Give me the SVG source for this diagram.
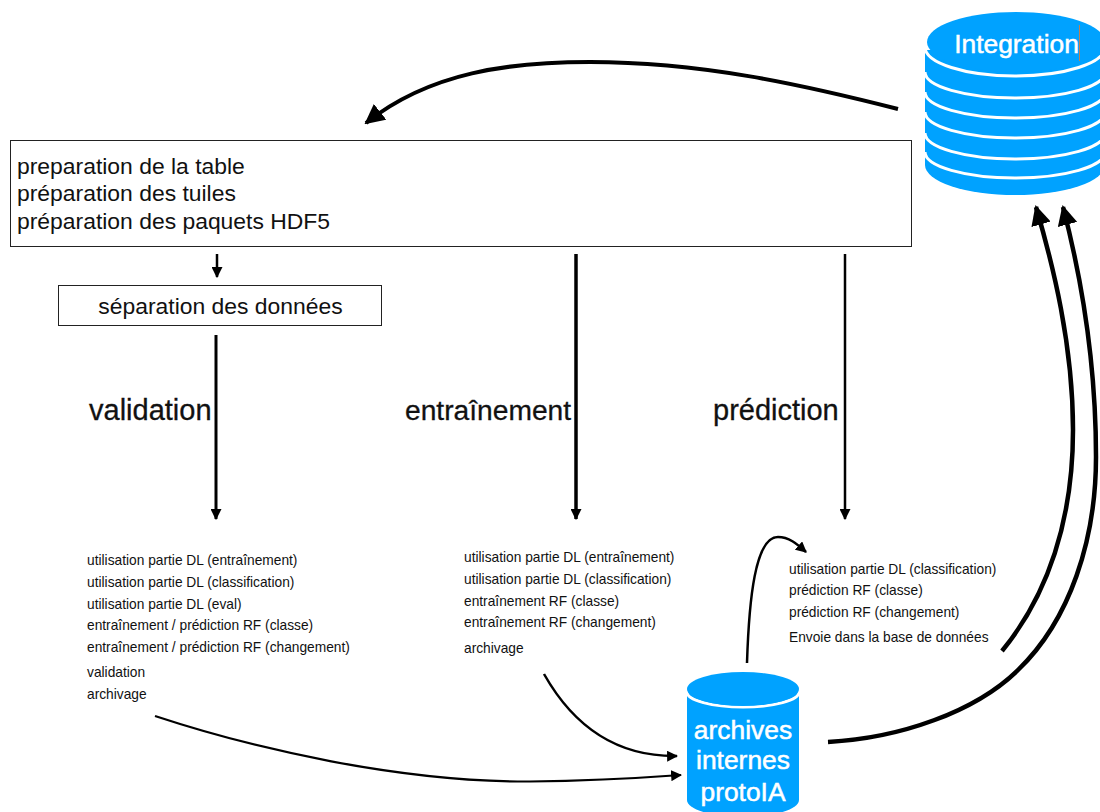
<svg xmlns="http://www.w3.org/2000/svg" width="1100" height="812" viewBox="0 0 1100 812">
<style>
text{font-family:"Liberation Sans",Arial,sans-serif;fill:#111}
.box{fill:#fff;stroke:#222;stroke-width:1}
.m{font-size:22.9px}
.h{stroke:#111;stroke-width:.3}
.s{font-size:13.75px}
.w{font-size:26.4px;fill:#fff;stroke:#fff;stroke-width:.5;text-anchor:middle}
.c{fill:none;stroke:#000;stroke-linecap:butt}
.b{fill:#00a2ff}
.l{fill:none;stroke:#fff;stroke-width:3}
</style>
<defs>
<marker id="a2" viewBox="0 0 10 10" refX="9" refY="5" markerWidth="11" markerHeight="11" markerUnits="userSpaceOnUse" orient="auto"><path d="M0 0L10 5L0 10z"/></marker>
<marker id="a3" viewBox="0 0 10 10" refX="9" refY="5" markerWidth="20" markerHeight="20" markerUnits="userSpaceOnUse" orient="auto"><path d="M0 0L10 5L0 10z"/></marker>
</defs>
<g id="connectors">
<path class="c" stroke-width="4" d="M898 109C800 84 700 62 590 62C510 62 430 72 366 123" marker-end="url(#a3)"/>
<path class="c" stroke-width="2.500" d="M217 254V277" marker-end="url(#a2)"/>
<path class="c" stroke-width="3" d="M216 335V519" marker-end="url(#a2)"/>
<path class="c" stroke-width="3.500" d="M576 254V519" marker-end="url(#a2)"/>
<path class="c" stroke-width="2.500" d="M845 254V519" marker-end="url(#a2)"/>
<path class="c" stroke-width="2.200" d="M155 716C255 749 400 782 530 781.500C590 781 640 778 681 775" marker-end="url(#a2)"/>
<path class="c" stroke-width="2.500" d="M544 674C570 720 610 757 677 756" marker-end="url(#a2)"/>
<path class="c" stroke-width="2.500" d="M747 663C749 600 755 537 778 537C790 537 798 545 806 552" marker-end="url(#a2)"/>
<path class="c" stroke-width="4.500" d="M1002 651C1048 595 1073 520 1073 430C1073 345 1053 265 1036 207" marker-end="url(#a3)"/>
<path class="c" stroke-width="4.500" d="M828 742C900 738 975 712 1018 670C1070 620 1096 540 1096 457C1096 360 1082 280 1063 207" marker-end="url(#a3)"/>
</g>
<g id="integration">
<path class="b" d="M925 50V165A90 30 0 0 0 1105 165V50z"/>
<path class="l" d="M925 47A90 29 0 0 0 1105 47"/>
<path class="l" d="M925 72A90 26 0 0 0 1105 72"/>
<path class="l" d="M925 92A90 26 0 0 0 1105 92"/>
<path class="l" d="M925 112A90 26 0 0 0 1105 112"/>
<path class="l" d="M925 133A90 26 0 0 0 1105 133"/>
<path class="l" d="M925 152A90 26 0 0 0 1105 152"/>
<ellipse class="b" cx="1016" cy="42" rx="89" ry="30"/>
<text class="w" x="1016.500" y="53">Integration</text>
<path d="M1079.500 25V61" stroke="#c08050" stroke-width="1"/>
</g>
<g id="preparation">
<rect class="box" x="10.500" y="140.500" width="901" height="106"/>
<text class="m" x="17" y="174">preparation de la table</text>
<text class="m" x="17" y="201">préparation des tuiles</text>
<text class="m" x="17" y="229">préparation des paquets HDF5</text>
</g>
<g id="separation">
<rect class="box" x="58.500" y="285.500" width="323" height="40"/>
<text class="m" x="220.500" y="314" text-anchor="middle">séparation des données</text>
</g>
<g id="labels">
<text class="h" x="89" y="420" font-size="29">validation</text>
<text class="h" x="405" y="420" font-size="28.200">entraînement</text>
<text class="h" x="713" y="420" font-size="29">prédiction</text>
</g>
<g id="list-validation">
<text class="s" x="87" y="565">utilisation partie DL (entraînement)</text>
<text class="s" x="87" y="587">utilisation partie DL (classification)</text>
<text class="s" x="87" y="609">utilisation partie DL (eval)</text>
<text class="s" x="87" y="630">entraînement / prédiction RF (classe)</text>
<text class="s" x="87" y="652">entraînement / prédiction RF (changement)</text>
<text class="s" x="87" y="677">validation</text>
<text class="s" x="87" y="699">archivage</text>
</g>
<g id="list-entrainement">
<text class="s" x="464" y="562">utilisation partie DL (entraînement)</text>
<text class="s" x="464" y="584">utilisation partie DL (classification)</text>
<text class="s" x="464" y="606">entraînement RF (classe)</text>
<text class="s" x="464" y="627">entraînement RF (changement)</text>
<text class="s" x="464" y="653">archivage</text>
</g>
<g id="list-prediction">
<text class="s" x="789" y="574">utilisation partie DL (classification)</text>
<text class="s" x="789" y="595">prédiction RF (classe)</text>
<text class="s" x="789" y="617">prédiction RF (changement)</text>
<text class="s" x="789" y="642">Envoie dans la base de données</text>
</g>
<g id="archives">
<path class="b" d="M687 692V800A56 17 0 0 0 799 800V692z"/>
<path class="l" d="M687 692A56 15 0 0 0 799 692"/>
<ellipse class="b" cx="743" cy="689" rx="56" ry="17"/>
<text class="w" x="743" y="739">archives</text>
<text class="w" x="743" y="769">internes</text>
<text class="w" x="743" y="801">protoIA</text>
</g>
</svg>
